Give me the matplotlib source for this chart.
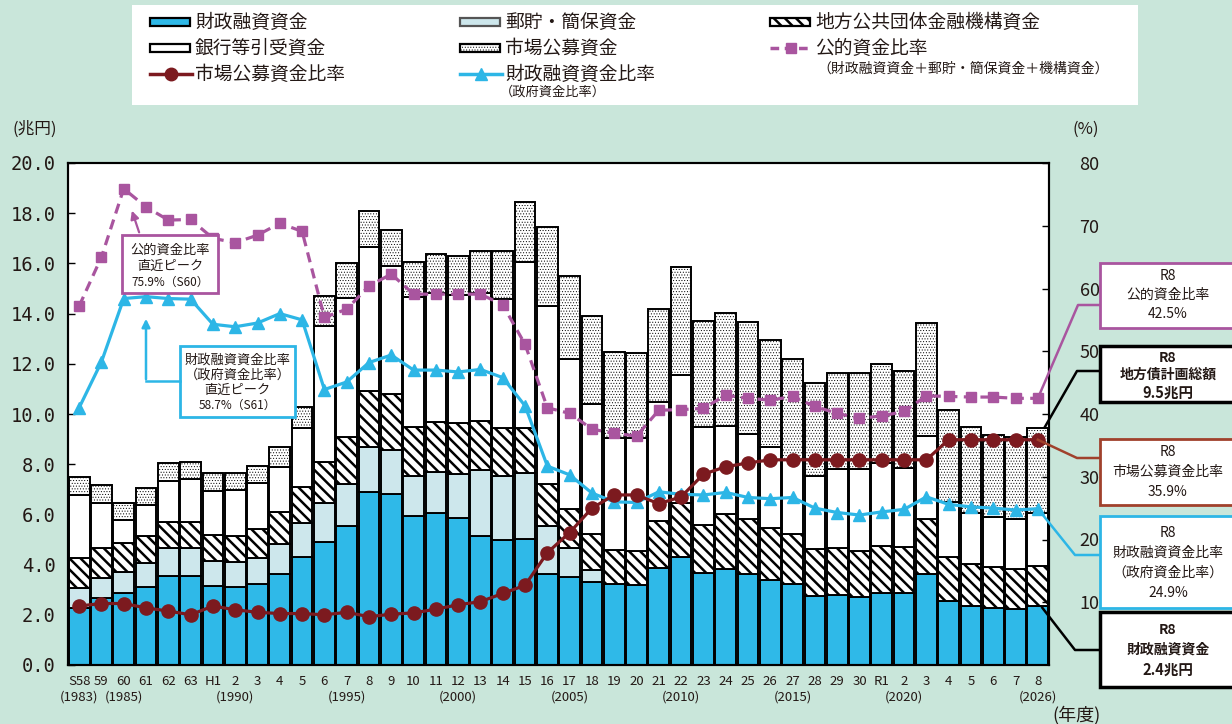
import numpy as np
import matplotlib
matplotlib.use("Agg")
import matplotlib.pyplot as plt
from matplotlib.patches import Rectangle, FancyArrowPatch
from matplotlib.lines import Line2D

plt.rcParams['font.family'] = ['Noto Sans CJK JP', 'DejaVu Sans']
plt.rcParams['hatch.linewidth'] = 1.8

# ---------------- data ----------------
era_labels = ['S58', '59', '60', '61', '62', '63', 'H1', '2', '3', '4', '5', '6', '7', '8',
              '9', '10', '11', '12', '13', '14', '15', '16', '17', '18', '19', '20', '21',
              '22', '23', '24', '25', '26', '27', '28', '29', '30', 'R1', '2', '3', '4',
              '5', '6', '7', '8']
year_notes = ['(1983)', '', '(1985)', '', '', '', '', '(1990)', '', '', '', '', '(1995)', '',
              '', '', '', '(2000)', '', '', '', '', '(2005)', '', '', '', '', '(2010)', '',
              '', '', '', '(2015)', '', '', '', '', '(2020)', '', '', '', '', '', '(2026)']

# 兆円
fiscal = [2.26, 2.67, 2.86, 3.12, 3.56, 3.54, 3.15, 3.09, 3.23, 3.61, 4.31, 4.89, 5.55, 6.90,
          6.81, 5.95, 6.04, 5.84, 5.15, 4.98, 5.02, 3.63, 3.49, 3.29, 3.21, 3.19, 3.88, 4.29,
          3.68, 3.82, 3.61, 3.39, 3.21, 2.76, 2.79, 2.72, 2.88, 2.86, 3.61, 2.55, 2.36, 2.26,
          2.22, 2.35]
postal = [0.79, 0.78, 0.86, 0.96, 1.11, 1.13, 0.99, 1.00, 1.05, 1.21, 1.33, 1.55, 1.66, 1.80,
          1.76, 1.58, 1.64, 1.76, 2.62, 2.56, 2.62, 1.92, 1.16, 0.49, 0, 0, 0, 0,
          0, 0, 0, 0, 0, 0, 0, 0, 0, 0, 0, 0, 0, 0, 0, 0]
agency = [1.23, 1.20, 1.15, 1.06, 1.04, 1.04, 1.04, 1.05, 1.14, 1.26, 1.46, 1.66, 1.86, 2.22,
          2.23, 1.96, 1.99, 2.03, 1.96, 1.91, 1.81, 1.65, 1.55, 1.44, 1.37, 1.35, 1.86, 2.18,
          1.90, 2.20, 2.21, 2.06, 2.00, 1.86, 1.86, 1.83, 1.87, 1.85, 2.21, 1.77, 1.65, 1.63,
          1.60, 1.61]
bank = [2.49, 1.79, 0.91, 1.23, 1.62, 1.70, 1.77, 1.83, 1.84, 1.82, 2.33, 5.42, 5.54, 5.72,
        5.10, 5.18, 5.14, 5.11, 5.10, 5.12, 6.62, 7.10, 5.99, 5.18, 4.48, 4.49, 4.73, 5.08,
        3.91, 3.51, 3.38, 3.22, 2.96, 2.91, 3.15, 3.25, 3.28, 3.15, 3.30, 2.16, 2.06, 1.99,
        1.98, 2.08]
market = [0.73, 0.73, 0.66, 0.67, 0.73, 0.66, 0.71, 0.69, 0.68, 0.77, 0.86, 1.18, 1.39, 1.45,
          1.43, 1.40, 1.56, 1.55, 1.68, 1.94, 2.39, 3.16, 3.32, 3.52, 3.42, 3.41, 3.70, 4.32,
          4.22, 4.48, 4.45, 4.28, 4.01, 3.69, 3.82, 3.85, 3.96, 3.85, 4.49, 3.68, 3.40, 3.28,
          3.30, 3.42]

# %
public_ratio = [57.2, 65.0, 75.9, 73.0, 70.9, 71.0, 68.0, 67.3, 68.5, 70.4, 69.1, 55.4, 56.7,
                60.4, 62.3, 59.1, 59.1, 59.1, 59.1, 57.4, 51.1, 41.0, 40.1, 37.6, 36.9, 36.5,
                40.6, 40.7, 40.9, 43.0, 42.5, 42.2, 42.8, 41.2, 40.1, 39.3, 39.7, 40.4, 42.9,
                42.8, 42.7, 42.7, 42.5, 42.5]
market_ratio = [9.4, 9.8, 9.8, 9.1, 8.6, 8.0, 9.4, 8.8, 8.4, 8.2, 8.2, 8.0, 8.4, 7.7, 8.1, 8.3,
                8.9, 9.6, 10.1, 11.4, 12.7, 17.9, 21.1, 25.0, 27.1, 27.1, 25.7, 26.8, 30.4,
                31.6, 32.2, 32.7, 32.7, 32.7, 32.7, 32.7, 32.7, 32.7, 32.7, 35.9, 35.9, 35.9,
                35.9, 35.9]
gov_ratio = [41.0, 48.3, 58.4, 58.7, 58.4, 58.3, 54.3, 53.9, 54.5, 56.0, 55.0, 43.9, 45.1, 48.2,
             49.4, 47.0, 47.0, 46.7, 47.1, 45.8, 41.3, 31.7, 30.3, 27.4, 26.0, 25.9, 27.6, 27.2,
             27.1, 27.5, 26.7, 26.5, 26.7, 25.0, 24.3, 23.9, 24.4, 24.8, 26.8, 25.6, 25.2, 25.0,
             24.7, 24.9]

left_ticks = [0, 2, 4, 6, 8, 10, 12, 14, 16, 18, 20]
right_ticks = [10, 20, 30, 40, 50, 60, 70, 80]

# ---------------- style ----------------
BG = '#C9E6DA'
C_FISCAL = '#2FB9E8'
C_POSTAL = '#CDE7EC'
C_PUB = '#A9559F'
C_MKT = '#7C1A1F'
C_GOV = '#2DB6E6'
C_BROWN = '#A0412C'
TXT = '#231815'
HATCH_STRIPE = '\\\\\\'
HATCH_DOT = '......'

W, H = 1232, 724
fig = plt.figure(figsize=(W / 100, H / 100), dpi=100)
fig.patch.set_facecolor(BG)


def P(x, y):
    return (x / W, 1 - y / H)


ax = fig.add_axes([68 / W, 1 - 665 / H, (1049 - 68) / W, (665 - 163) / H])
ax.set_facecolor('white')
ax2 = ax.twinx()

n = len(era_labels)
x = np.arange(n)
layers = [(fiscal, C_FISCAL, None, 1.8), (postal, C_POSTAL, None, 1.8),
          (agency, 'white', HATCH_STRIPE, 1.8), (bank, 'white', None, 1.8),
          (market, 'white', HATCH_DOT, 0.4)]
bottom = np.zeros(n)
for vals, fc, hatch, hlw in layers:
    v = np.array(vals)
    with plt.rc_context({'hatch.linewidth': hlw}):
        ax.bar(x, v, 0.93, bottom=bottom, color=fc, edgecolor='black', linewidth=1.4,
               hatch=hatch, zorder=2)
    bottom += v
total = bottom

ax.set_xlim(-0.5, n - 0.5)
ax.set_ylim(0, 20)
ax2.set_ylim(0, 80)

ax2.plot(x, public_ratio, color=C_PUB, lw=2.3, ls=(0, (3.2, 2.0)), marker='s', ms=7.5,
         mfc=C_PUB, mec=C_PUB, zorder=3)
ax2.plot(x, gov_ratio, color=C_GOV, lw=2.3, marker='^', ms=9, mfc=C_GOV, mec=C_GOV, zorder=4)
ax2.plot(x, market_ratio, color=C_MKT, lw=2.3, marker='o', ms=9.5, mfc=C_MKT, mec=C_MKT, zorder=5)

ax.set_yticks(left_ticks)
ax.set_yticklabels([f'{v:.1f}' for v in left_ticks], fontsize=13.5, family='DejaVu Sans Mono',
                   color=TXT)
ax2.set_yticks(right_ticks)
ax2.set_yticklabels([str(v) for v in right_ticks], fontsize=13, color=TXT)
ax.tick_params(axis='y', direction='in', length=5, width=1, pad=9)
ax2.tick_params(axis='y', direction='in', length=5, width=1, pad=22)

ax.set_xticks(x)
ax.set_xticklabels(era_labels, fontsize=9.5, color=TXT)
ax.tick_params(axis='x', length=0, pad=7)
for xi, note in zip(x, year_notes):
    if note:
        ax.text(xi, -0.064, note, transform=ax.get_xaxis_transform(), ha='center', va='center',
                fontsize=9.5, color=TXT)

for a in (ax, ax2):
    for s in a.spines.values():
        s.set_linewidth(1.5)
        s.set_color('black')

# axis unit labels
fig.text(*P(35, 129), '(兆円)', ha='center', va='center', fontsize=12, color=TXT)
fig.text(*P(1086, 129), '(%)', ha='center', va='center', fontsize=12, color=TXT)
fig.text(*P(1076, 715), '(年度)', ha='center', va='center', fontsize=13, color=TXT)

# ---------------- legend ----------------
fig.add_artist(Rectangle(P(132, 105), (1138 - 132) / W, 100 / H, transform=fig.transFigure,
                         facecolor='white', edgecolor='none', zorder=0))


def leg_rect(x0, yc, fc, hatch=None, ec='black', hlw=1.8):
    with plt.rc_context({'hatch.linewidth': hlw}):
        fig.add_artist(Rectangle(P(x0, yc + 4), 40 / W, 8 / H, transform=fig.transFigure,
                                 facecolor=fc, edgecolor=ec, linewidth=1.6, hatch=hatch))


def leg_line(x0, yc, color, marker, ms, ls='-'):
    xs = [x0 / W, (x0 + 42) / W]
    ys = [1 - yc / H] * 2
    fig.add_artist(Line2D(xs, ys, transform=fig.transFigure, color=color, lw=2.5, ls=ls))
    fig.add_artist(Line2D([(x0 + 21) / W], [1 - yc / H], transform=fig.transFigure,
                          color=color, marker=marker, ms=ms, mec=color, mfc=color, lw=0))


def leg_text(x0, yc, s, size=13.5):
    fig.text(x0 / W, 1 - yc / H, s, ha='left', va='center', fontsize=size, color=TXT)


c1, c2, c3 = 150, 460, 770
r1, r2, r3 = 22, 48, 74
leg_rect(c1, r1, C_FISCAL)
leg_text(c1 + 45, r1, '財政融資資金')
leg_rect(c2, r1, C_POSTAL, ec='#555555')
leg_text(c2 + 45, r1, '郵貯・簡保資金')
leg_rect(c3, r1, 'white', HATCH_STRIPE)
leg_text(c3 + 45, r1, '地方公共団体金融機構資金')
leg_rect(c1, r2, 'white')
leg_text(c1 + 45, r2, '銀行等引受資金')
leg_rect(c2, r2, 'white', HATCH_DOT, hlw=0.4)
leg_text(c2 + 45, r2, '市場公募資金')
leg_line(c3, r2, C_PUB, 's', 7, ls=(0, (2.5, 1.6)))
leg_text(c3 + 45, r2, '公的資金比率')
fig.text(963 / W, 1 - 69 / H, '（財政融資資金＋郵貯・簡保資金＋機構資金）', ha='center',
         va='center', fontsize=10, color=TXT)
leg_line(c1, r3, C_MKT, 'o', 9)
leg_text(c1 + 45, r3, '市場公募資金比率')
leg_line(c2, r3, C_GOV, '^', 9)
leg_text(c2 + 45, r3, '財政融資資金比率')
fig.text(553 / W, 1 - 92 / H, '（政府資金比率）', ha='center', va='center', fontsize=9.5,
         color=TXT)


# ---------------- annotation boxes ----------------
def box(x0, y0, x1, y1, ec, lw=2.0):
    fig.add_artist(Rectangle(P(x0, y1), (x1 - x0) / W, (y1 - y0) / H, transform=fig.transFigure,
                             facecolor='white', edgecolor=ec, linewidth=lw, zorder=6,
                             clip_on=False))


def box_text(xc, ys, lines, sizes, weight='normal'):
    for yy, s, fs in zip(ys, lines, sizes):
        fig.text(xc / W, 1 - yy / H, s, ha='center', va='center', fontsize=fs, color=TXT,
                 fontweight=weight, zorder=7)


def data_to_fig(axis, xv, yv):
    d = axis.transData.transform((xv, yv))
    return fig.transFigure.inverted().transform(d)


def connector(start, pts, color, lw=1.8):
    xs = [start[0]] + [p[0] / W for p in pts]
    ys = [start[1]] + [1 - p[1] / H for p in pts]
    fig.add_artist(Line2D(xs, ys, transform=fig.transFigure, color=color, lw=lw, zorder=5,
                          clip_on=False))


last = n - 1
# right side
connector(data_to_fig(ax2, last, public_ratio[-1]), [(1078, 305), (1100, 305)], C_PUB)
box(1100, 263, 1240, 328, C_PUB)
box_text(1168, [276, 295, 314], ['R8', '公的資金比率', '42.5%'], [10, 10, 10])

connector(data_to_fig(ax, last + 0.3, total[-1]), [(1077, 371), (1100, 371)], 'black')
box(1100, 346, 1240, 402, 'black', lw=2.5)
box_text(1168, [358, 375, 393], ['R8', '地方債計画総額', '9.5兆円'], [10, 10, 10.5],
         weight='bold')

connector(data_to_fig(ax2, last, market_ratio[-1]), [(1077, 458), (1100, 458)], C_BROWN)
box(1100, 439, 1240, 505, C_BROWN)
box_text(1168, [452, 472, 492], ['R8', '市場公募資金比率', '35.9%'], [10, 10, 10])

connector(data_to_fig(ax2, last, gov_ratio[-1]), [(1075, 555), (1100, 555)], C_GOV)
box(1100, 516, 1240, 608, C_GOV)
box_text(1168, [533, 553, 573, 593], ['R8', '財政融資資金比率', '（政府資金比率）', '24.9%'],
         [10, 10, 10, 10])

connector(data_to_fig(ax, last + 0.2, fiscal[-1] * 0.97), [(1075, 650), (1100, 650)], 'black')
box(1100, 612, 1240, 687, 'black', lw=2.5)
box_text(1168, [630, 650, 670], ['R8', '財政融資資金', '2.4兆円'], [10, 10, 10.5],
         weight='bold')

# left side peaks
box(122, 235, 218, 293, C_PUB)
box_text(170, [250, 266, 282], ['公的資金比率', '直近ピーク', '75.9%（S60）'], [9.5, 9.5, 8.5])
fig.add_artist(FancyArrowPatch(P(140, 235), P(131, 208), transform=fig.transFigure,
                               arrowstyle='-|>', mutation_scale=12, color=C_PUB, lw=1.6,
                               zorder=6))

box(180, 346, 295, 417, C_GOV)
box_text(237.5, [360, 375, 390, 405], ['財政融資資金比率', '（政府資金比率）', '直近ピーク',
                                       '58.7%（S61）'], [9.5, 9.5, 9.5, 8.5])
fig.add_artist(Line2D([180 / W, 146 / W], [1 - 381 / H] * 2, transform=fig.transFigure,
                      color=C_GOV, lw=1.8, zorder=6))
fig.add_artist(FancyArrowPatch(P(146, 382), P(146, 316), transform=fig.transFigure,
                               arrowstyle='-|>', mutation_scale=12, color=C_GOV, lw=1.8,
                               zorder=6))

fig.savefig('out.png', dpi=100, facecolor=BG)
